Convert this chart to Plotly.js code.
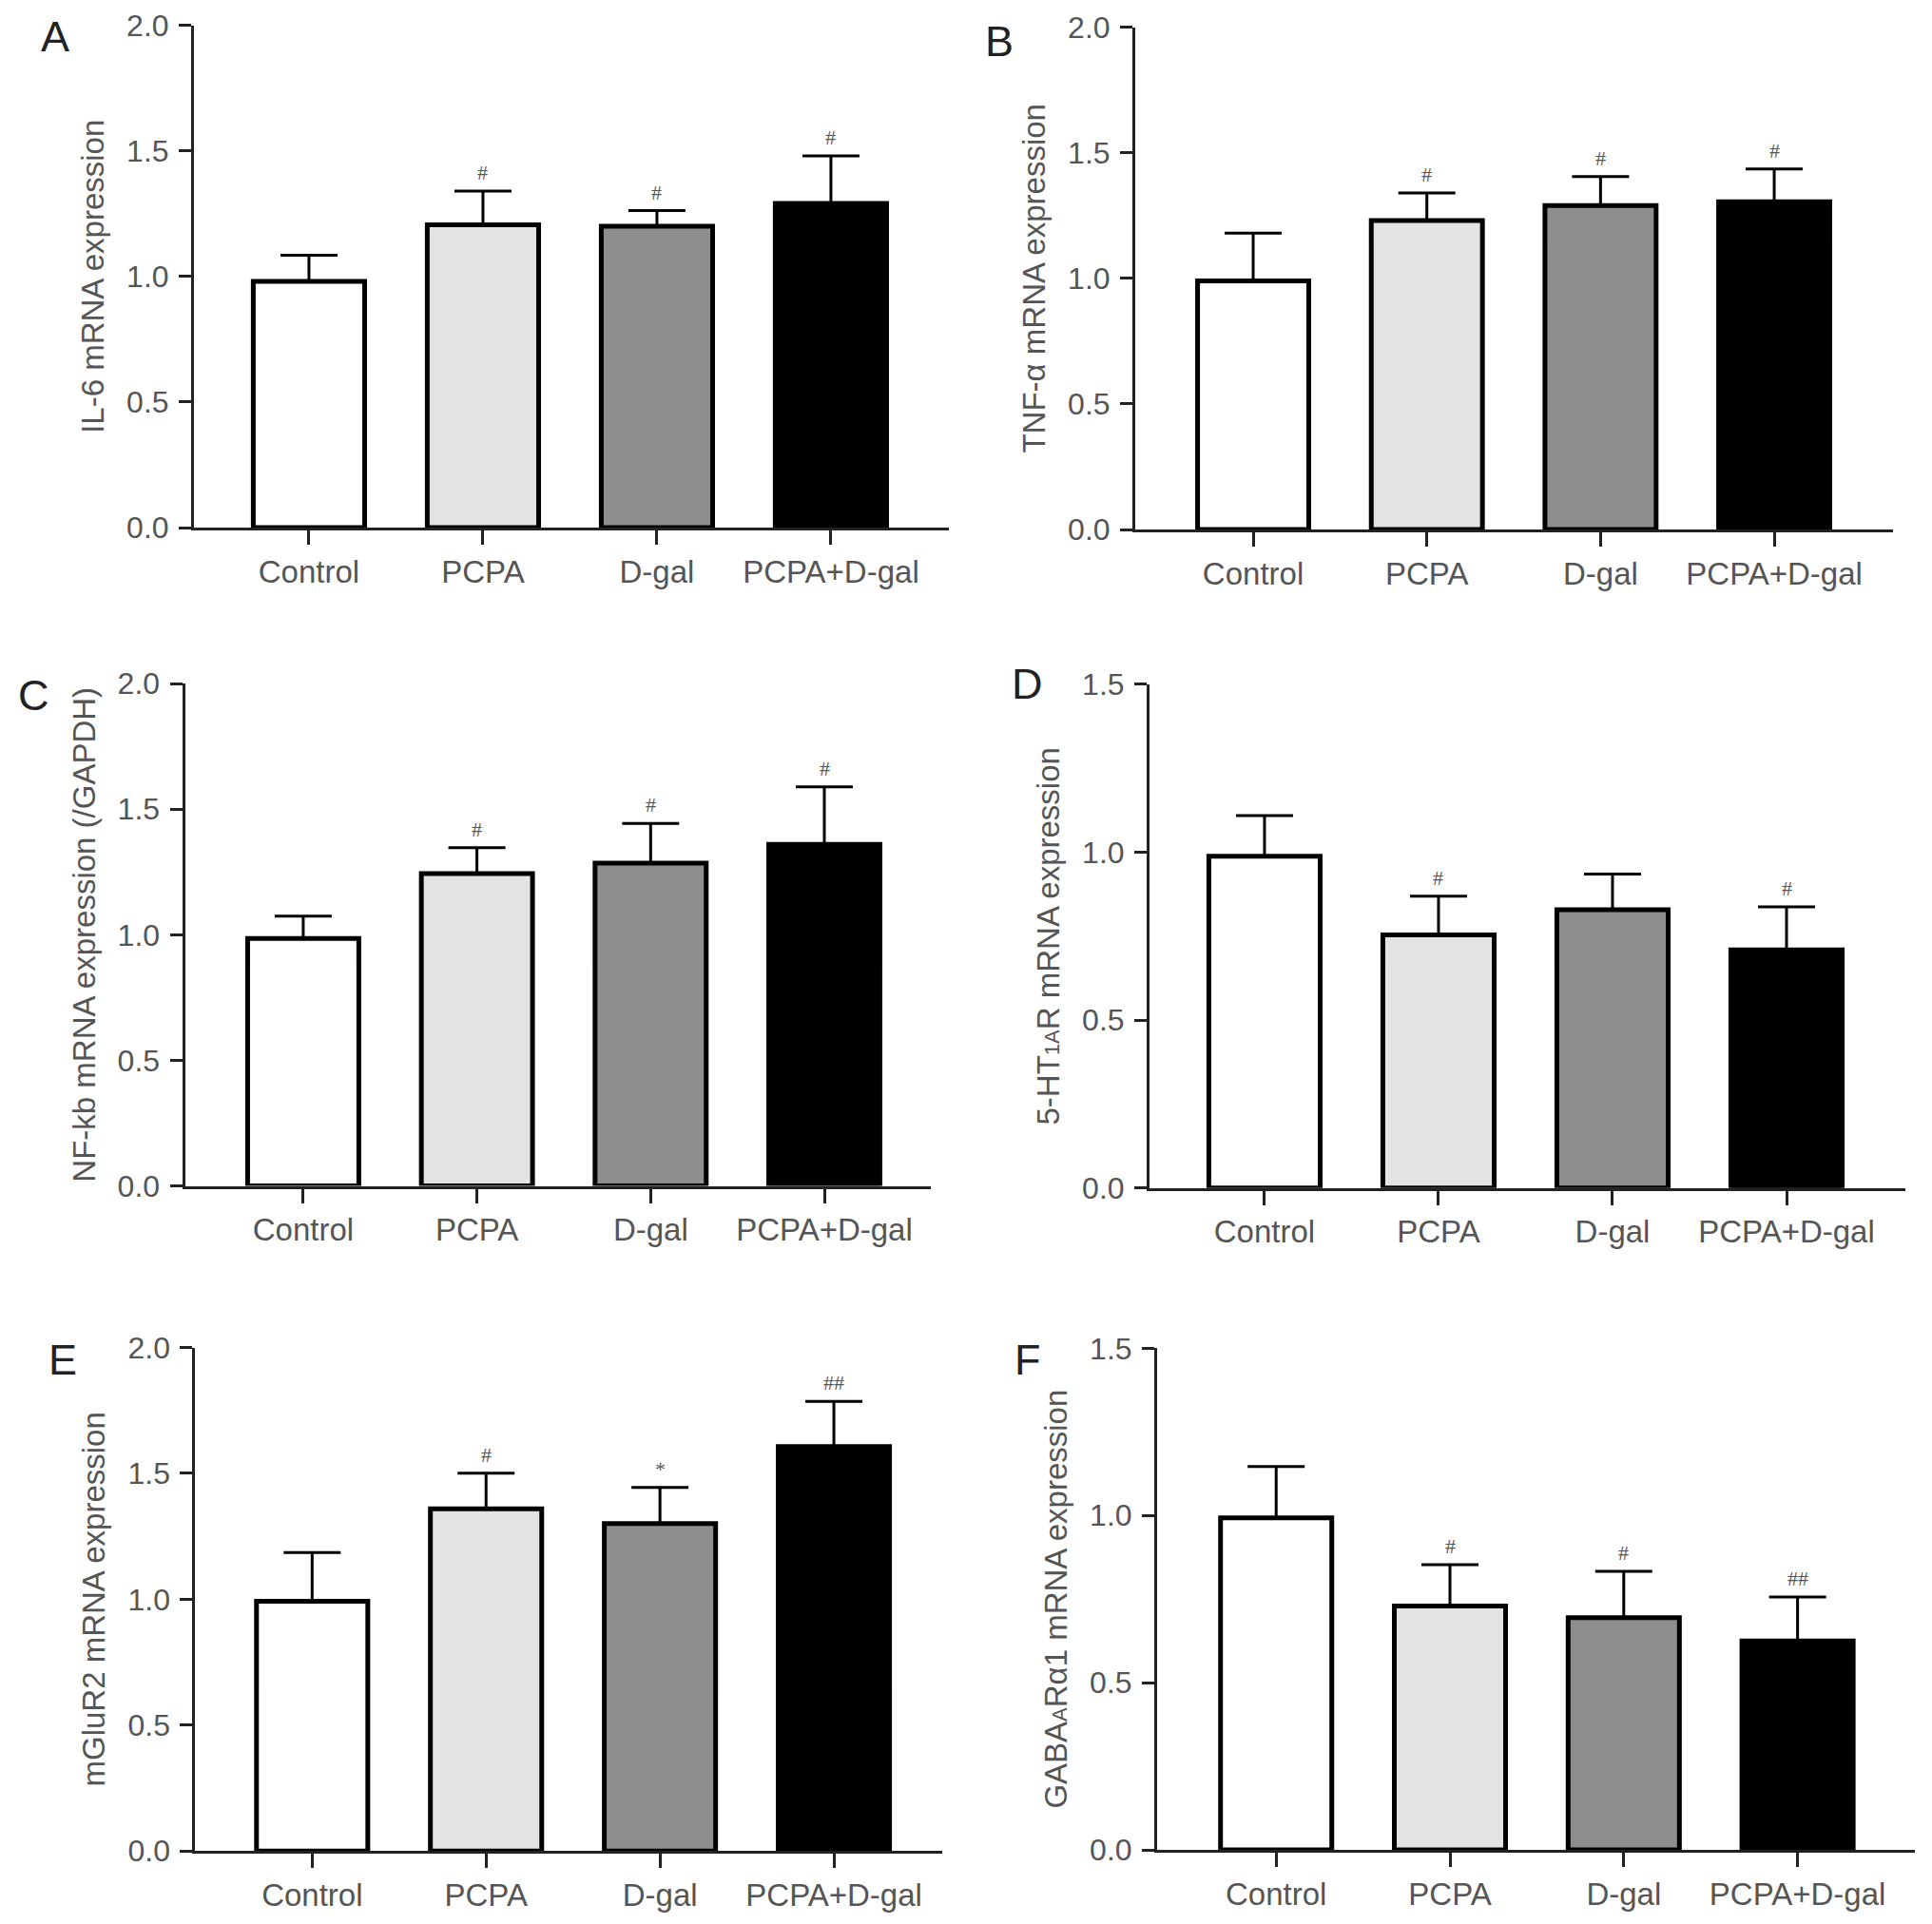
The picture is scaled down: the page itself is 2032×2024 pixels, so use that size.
<!DOCTYPE html>
<html>
<head>
<meta charset="utf-8">
<script src="https://cdn.plot.ly/plotly-3.0.1.min.js"></script>
<style>
  html, body { margin: 0; padding: 0; background: #fff; }
  #chart { width: 2032px; height: 2024px; }
</style>
</head>
<body>
<div id="chart"></div>
<script>
// ---------- DATA ----------
const groups = ["Control", "PCPA", "D-gal", "PCPA+D-gal"];

const il6Mean = [0.98, 1.205, 1.20, 1.29];
const il6Err  = [0.104, 0.135, 0.062, 0.19];
const il6Sig  = ["", "#", "#", "#"];

const tnfMean = [0.99, 1.23, 1.29, 1.305];
const tnfErr  = [0.19, 0.11, 0.115, 0.13];
const tnfSig  = ["", "#", "#", "#"];

const nfkbMean = [0.985, 1.243, 1.285, 1.36];
const nfkbErr  = [0.089, 0.103, 0.158, 0.229];
const nfkbSig  = ["", "#", "#", "#"];

const ht1aMean = [0.988, 0.754, 0.829, 0.709];
const ht1aErr  = [0.121, 0.115, 0.106, 0.128];
const ht1aSig  = ["", "#", "", "#"];

const mglurMean = [0.992, 1.359, 1.301, 1.606];
const mglurErr  = [0.193, 0.142, 0.143, 0.18];
const mglurSig  = ["", "#", "*", "##"];

const gabaMean = [0.993, 0.729, 0.694, 0.625];
const gabaErr  = [0.153, 0.124, 0.139, 0.131];
const gabaSig  = ["", "#", "#", "##"];

const panelLetters = ["A", "B", "C", "D", "E", "F"];
const yTitles = [
  "IL-6 mRNA expression",
  "TNF-α mRNA expression",
  "NF-kb mRNA expression (/GAPDH)",
  "5-HT<span style='font-size:22px'>1A</span>R mRNA expression",
  "mGluR2 mRNA expression",
  "GABA<span style='font-size:22px'>A</span>Rα1 mRNA expression"
];
const yMax = [2.0, 2.0, 2.0, 1.5, 2.0, 1.5];

// ---------- STYLE / LAYOUT ----------
const W = 2032, H = 2024;
const barColors = ["#ffffff", "#e3e3e3", "#8e8e8e", "#000000"];
const FONT = "Liberation Sans, Arial, Helvetica, sans-serif";
const panelsGeom = [
  {xp: [204, 998],    yp: [26.5, 555],    xr: [-0.661, 3.678], lt: [58, 38]},
  {xp: [1194, 1991],  yp: [28.6, 557],    xr: [-0.679, 3.684], lt: [1051, 43]},
  {xp: [194.5, 979],  yp: [719, 1247.6],  xr: [-0.681, 3.613], lt: [35, 731]},
  {xp: [1209, 2004],  yp: [719.9, 1249.7],xr: [-0.661, 3.683], lt: [1080, 720]},
  {xp: [205.4, 991],  yp: [1417.5, 1947.2],xr: [-0.672, 3.623], lt: [66, 1430]},
  {xp: [1217, 2014],  yp: [1418.3, 1946], xr: [-0.685, 3.675], lt: [1081, 1430]}
];

const means = [il6Mean, tnfMean, nfkbMean, ht1aMean, mglurMean, gabaMean];
const errs  = [il6Err, tnfErr, nfkbErr, ht1aErr, mglurErr, gabaErr];
const sigs  = [il6Sig, tnfSig, nfkbSig, ht1aSig, mglurSig, gabaSig];

const traces = [];
const annotations = [];
const layout = {
  width: W, height: H,
  margin: {l: 0, r: 0, t: 0, b: 0},
  paper_bgcolor: "#ffffff",
  plot_bgcolor: "rgba(0,0,0,0)",
  showlegend: false,
  bargap: 0.36,
  font: {family: FONT, color: "#555555"}
};

for (let i = 0; i < 6; i++) {
  const n = i + 1;
  const xa = n === 1 ? "x" : "x" + n;
  const ya = n === 1 ? "y" : "y" + n;
  const g = panelsGeom[i];

  traces.push({
    type: "bar",
    x: groups,
    y: means[i],
    xaxis: xa, yaxis: ya,
    marker: {color: barColors, line: {color: "#000000", width: 5}},
    error_y: {
      type: "data", symmetric: false,
      array: errs[i],
      arrayminus: means[i].map(() => 0),
      color: "#000000", thickness: 3, width: 30
    },
    hoverinfo: "skip"
  });

  layout["xaxis" + (n === 1 ? "" : n)] = {
    domain: [g.xp[0] / W, g.xp[1] / W],
    anchor: ya,
    type: "category",
    range: g.xr,
    showgrid: false, zeroline: false,
    showline: true, linecolor: "#222222", linewidth: 3,
    ticks: "outside", ticklen: 15, tickwidth: 3, tickcolor: "#222222",
    tickfont: {family: FONT, size: 33, color: "#555555"},
    ticklabelstandoff: 0,
    fixedrange: true
  };
  layout["yaxis" + (n === 1 ? "" : n)] = {
    domain: [1 - g.yp[1] / H, 1 - g.yp[0] / H],
    anchor: xa,
    range: [0, yMax[i]],
    dtick: 0.5, tick0: 0, tickformat: ".1f",
    showgrid: false, zeroline: false,
    showline: true, linecolor: "#222222", linewidth: 3,
    ticks: "outside", ticklen: 13, tickwidth: 3, tickcolor: "#222222",
    tickfont: {family: FONT, size: 32, color: "#555555"},
    ticklabelstandoff: 4,
    title: {text: yTitles[i], font: {family: FONT, size: 33, color: "#555555"}, standoff: 14},
    fixedrange: true
  };

  // significance marks
  for (let k = 0; k < groups.length; k++) {
    if (!sigs[i][k]) continue;
    annotations.push({
      xref: xa, yref: ya,
      x: groups[k], y: means[i][k] + errs[i][k],
      text: sigs[i][k],
      showarrow: false,
      yanchor: "bottom", yshift: 5,
      font: {family: "Liberation Serif, serif", size: 22, color: "#555555"}
    });
  }

  // panel letter
  annotations.push({
    xref: "paper", yref: "paper",
    x: g.lt[0] / W, y: 1 - g.lt[1] / H,
    xanchor: "center", yanchor: "middle",
    text: panelLetters[i], showarrow: false,
    font: {family: FONT, size: 45, color: "#222222"}
  });
}
layout.annotations = annotations;

Plotly.newPlot("chart", traces, layout, {staticPlot: true, displayModeBar: false});
</script>
</body>
</html>
